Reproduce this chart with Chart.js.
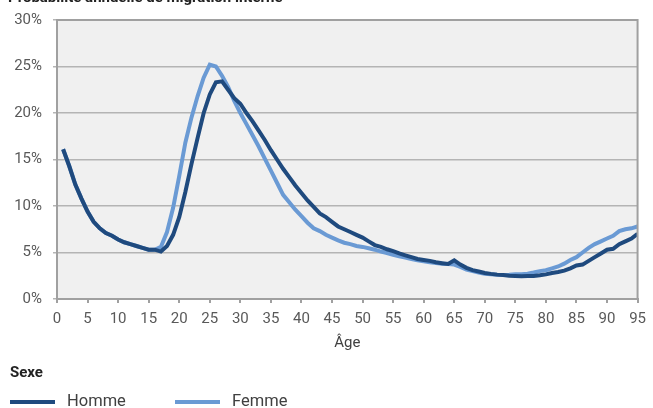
<!DOCTYPE html>
<html lang="fr">
<head>
<meta charset="utf-8">
<script src="https://cdn.jsdelivr.net/npm/chart.js@4/dist/chart.umd.min.js"></script>
<style>
  html, body { margin: 0; padding: 0; background: #fff; }
  body { width: 653px; height: 408px; position: relative; overflow: hidden; font-family: Roboto, "Noto Sans", sans-serif; }
  #wrap { position: absolute; left: 0; top: 0; width: 653px; height: 408px; }
  .title { position: absolute; left: 8px; top: -12px; font-size: 15px; font-weight: bold; color: #222; white-space: nowrap; }
  .legend-title { position: absolute; left: 10px; top: 363px; font-size: 15px; font-weight: bold; color: #222; }
  .legend-item { position: absolute; top: 391px; font-size: 16.5px; color: #404040; white-space: nowrap; }
  .legend-item span.swatch { position: absolute; top: 9px; width: 45px; height: 4px; }
  .legend-item span.label { position: absolute; left: 57px; top: 0; }
</style>
</head>
<body>
<div id="wrap"><canvas id="migrationChart" width="653" height="408"></canvas></div>
<div class="title">Probabilité annuelle de migration interne</div>
<div class="legend-title">Sexe</div>
<div class="legend-item" style="left:10px"><span class="swatch" style="background:#1F4A7E"></span><span class="label">Homme</span></div>
<div class="legend-item" style="left:175px"><span class="swatch" style="background:#6A9AD4"></span><span class="label">Femme</span></div>
<script>
// Age (years)
const ages = [1, 2, 3, 4, 5, 6, 7, 8, 9, 10, 11, 12, 13, 14, 15, 16, 17, 18, 19, 20,
  21, 22, 23, 24, 25, 26, 27, 28, 29, 30, 31, 32, 33, 34, 35, 36, 37, 38, 39, 40,
  41, 42, 43, 44, 45, 46, 47, 48, 49, 50, 51, 52, 53, 54, 55, 56, 57, 58, 59, 60,
  61, 62, 63, 64, 65, 66, 67, 68, 69, 70, 71, 72, 73, 74, 75, 76, 77, 78, 79, 80,
  81, 82, 83, 84, 85, 86, 87, 88, 89, 90, 91, 92, 93, 94, 95]

// Probability of internal migration (%)
const homme = [16.1, 14.3, 12.3, 10.8, 9.4, 8.3, 7.6, 7.1, 6.8, 6.4,
  6.1, 5.9, 5.7, 5.5, 5.3, 5.3, 5.1, 5.7, 6.9, 8.8,
  11.5, 14.5, 17.3, 20.0, 22.0, 23.3, 23.4, 22.5, 21.6, 21.0,
  20.0, 19.1, 18.1, 17.1, 16.0, 15.0, 14.0, 13.1, 12.2, 11.4,
  10.6, 9.9, 9.2, 8.8, 8.3, 7.8, 7.5, 7.2, 6.9, 6.6,
  6.2, 5.8, 5.6, 5.35, 5.15, 4.9, 4.7, 4.5, 4.3, 4.2,
  4.1, 3.95, 3.85, 3.76, 4.15, 3.7, 3.35, 3.1, 2.95, 2.8,
  2.7, 2.62, 2.57, 2.5, 2.47, 2.45, 2.47, 2.47, 2.55, 2.65,
  2.8, 2.9, 3.05, 3.3, 3.6, 3.7, 4.1, 4.5, 4.9, 5.3,
  5.4, 5.9, 6.2, 6.5, 7.0]

const femme = [16.1, 14.3, 12.3, 10.8, 9.4, 8.3, 7.6, 7.1, 6.8, 6.4,
  6.1, 5.9, 5.7, 5.5, 5.3, 5.3, 5.6, 7.2, 9.8, 13.2,
  16.8, 19.5, 21.8, 23.8, 25.2, 25.0, 24.0, 22.8, 21.3, 20.0,
  18.8, 17.6, 16.4, 15.1, 13.8, 12.5, 11.2, 10.4, 9.6, 8.9,
  8.2, 7.6, 7.3, 6.9, 6.6, 6.3, 6.05, 5.9, 5.7, 5.6,
  5.45, 5.3, 5.1, 4.95, 4.75, 4.6, 4.45, 4.3, 4.15, 4.05,
  3.95, 3.88, 3.8, 3.75, 3.7, 3.45, 3.15, 3.0, 2.85, 2.72,
  2.65, 2.6, 2.58, 2.6, 2.65, 2.65, 2.72, 2.85, 3.0, 3.1,
  3.3, 3.5, 3.8, 4.2, 4.5, 5.0, 5.5, 5.9, 6.2, 6.5,
  6.8, 7.3, 7.5, 7.6, 7.8]

const yTicks = [0, 5, 10, 15, 20, 25, 30]
const xTicks = [0, 5, 10, 15, 20, 25, 30, 35, 40, 45, 50, 55, 60, 65, 70, 75, 80, 85, 90, 95]

const toPoints = (values) => values.map((v, i) => ({ x: ages[i], y: v }))

// grey plot background + frame
const plotFrame = {
  id: "plotFrame",
  beforeDraw(chart) {
    const { ctx, chartArea: a } = chart
    ctx.save()
    ctx.fillStyle = "#f0f0f0"
    ctx.fillRect(a.left, a.top, a.right - a.left, a.bottom - a.top)
    ctx.restore()
  },
  afterDatasetsDraw(chart) {
    const { ctx, chartArea: a } = chart
    ctx.save()
    ctx.strokeStyle = "#a0a0a0"
    ctx.lineWidth = 2
    ctx.beginPath()
    ctx.moveTo(a.left, a.top)
    ctx.lineTo(a.right, a.top)
    ctx.lineTo(a.right, a.bottom)
    ctx.stroke()
    ctx.restore()
  },
}

document.addEventListener("DOMContentLoaded", () => {
  const ctx = document.getElementById("migrationChart").getContext("2d")

  new Chart(ctx, {
    type: "line",
    data: {
      datasets: [
        {
          label: "Homme",
          data: toPoints(homme),
          borderColor: "#1F4A7E",
          borderWidth: 4,
          pointRadius: 0,
          tension: 0,
        },
        {
          label: "Femme",
          data: toPoints(femme),
          borderColor: "#6A9AD4",
          borderWidth: 4,
          pointRadius: 0,
          tension: 0,
        },
      ],
    },
    options: {
      responsive: false,
      animation: false,
      layout: { padding: { top: 12, right: 11, bottom: 56, left: 0 } },
      plugins: {
        legend: { display: false },
        tooltip: { enabled: false },
      },
      scales: {
        x: {
          type: "linear",
          min: 0,
          max: 95,
          afterBuildTicks: (scale) => {
            scale.ticks = xTicks.map((v) => ({ value: v }))
          },
          grid: {
            drawOnChartArea: false,
            color: "#a0a0a0",
            tickLength: 4,
            lineWidth: 2,
          },
          border: { color: "#a0a0a0", width: 2 },
          ticks: {
            color: "#595959",
            font: { family: "Roboto", size: 15 },
            padding: 7,
            maxRotation: 0,
            autoSkip: false,
          },
          title: {
            display: true,
            text: "Âge",
            color: "#404040",
            font: { family: "Roboto", size: 15 },
            padding: { top: -1, bottom: 0 },
          },
        },
        y: {
          min: 0,
          max: 30,
          afterBuildTicks: (scale) => {
            scale.ticks = yTicks.map((v) => ({ value: v }))
          },
          afterFit: (scale) => {
            scale.width = 57
          },
          grid: {
            color: "#b4b4b4",
            lineWidth: 1.5,
            tickLength: 4,
          },
          border: { color: "#a0a0a0", width: 2 },
          ticks: {
            color: "#595959",
            font: { family: "Roboto", size: 15 },
            padding: 11,
            callback: (value) => value + "%",
          },
        },
      },
    },
    plugins: [plotFrame],
  })
})
</script>
</body>
</html>
